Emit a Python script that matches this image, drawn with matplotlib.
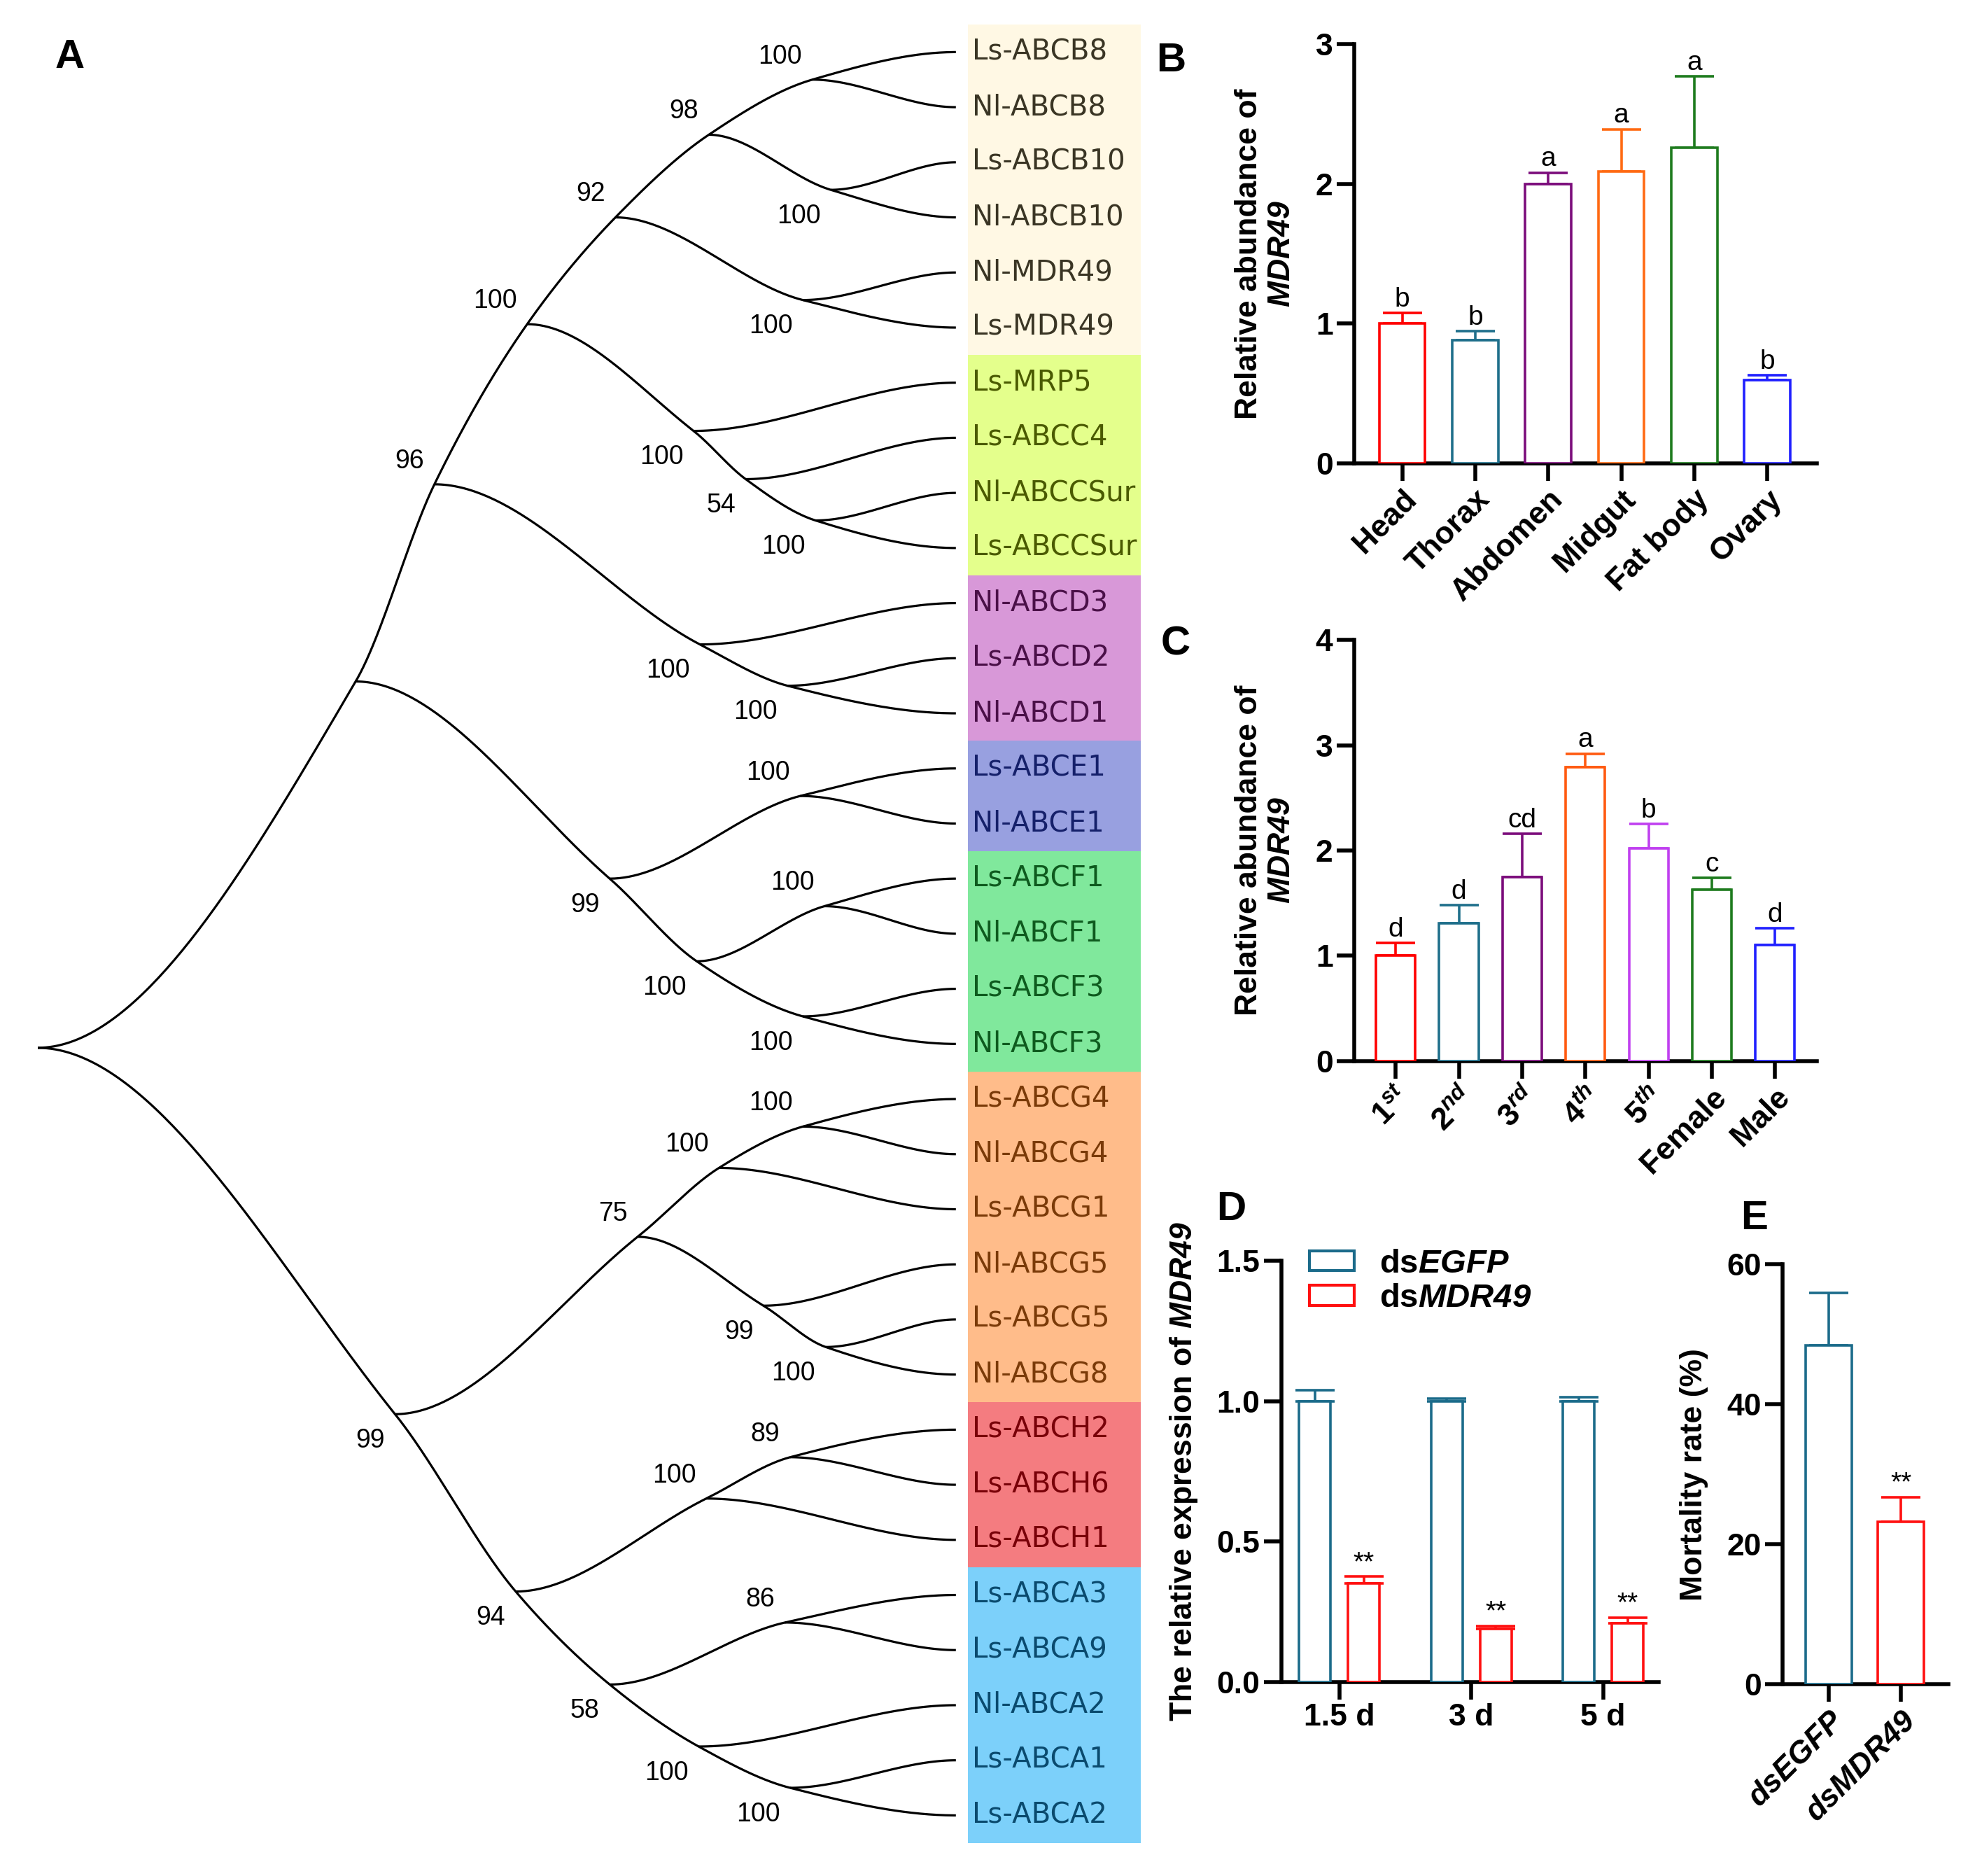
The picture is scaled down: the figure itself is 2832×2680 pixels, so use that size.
"""
Figure: ABC transporter tree (A) and MDR49 expression / RNAi bar charts (B-E)
"""

import numpy as np
import matplotlib
matplotlib.use('Agg')
import matplotlib.pyplot as plt
from matplotlib.patches import Rectangle, Patch

FONT = 'Liberation Sans'

# ---------------- data ----------------
# tree: bootstrap values as node labels, branch lengths
tree_newick = (
    "(((((((Ls-ABCB8,Nl-ABCB8)100:0.815,(Ls-ABCB10,Nl-ABCB10)100:0.96)98:0.735,"
    "(Nl-MDR49,Ls-MDR49)100:1.475)92:0.695,"
    "(Ls-MRP5,(Ls-ABCC4,(Nl-ABCCSur,Ls-ABCCSur)100:0.55)54:0.41)100:1.31)100:0.73,"
    "(Nl-ABCD3,(Ls-ABCD2,Nl-ABCD1)100:0.69)100:2.09)96:0.62,"
    "((Ls-ABCE1,Nl-ABCE1)100:1.5,((Ls-ABCF1,Nl-ABCF1)100:1.005,"
    "(Ls-ABCF3,Nl-ABCF3)100:0.835)100:0.685)99:2.0):2.505,"
    "((((Ls-ABCG4,Nl-ABCG4)100:0.66,Ls-ABCG1)100:0.64,"
    "(Nl-ABCG5,(Ls-ABCG5,Nl-ABCG8)100:0.49)99:0.99)75:1.91,"
    "(((Ls-ABCH2,Ls-ABCH6)89:0.66,Ls-ABCH1)100:1.5,"
    "((Ls-ABCA3,Ls-ABCA9)86:1.38,(Nl-ABCA2,(Ls-ABCA1,Ls-ABCA2)100:0.72)100:0.7)58:0.74)94:0.95)99:2.815);"
)
tip_depth = 7.23

subfamilies = ['B', 'C', 'D', 'E', 'F', 'G', 'H', 'A']
subfamily_sizes = [6, 4, 3, 2, 4, 6, 3, 5]
subfamily_fill = ['#FFF8E4', '#E4FF8C', '#D898D8', '#98A0E0',
                  '#80E89C', '#FFBC8A', '#F47C80', '#7CD0FA']
subfamily_text = ['#3A3524', '#4A5A00', '#4A1048', '#15206A',
                  '#0E5A1E', '#7A3A08', '#780008', '#0A4A6E']

tissues = ['Head', 'Thorax', 'Abdomen', 'Midgut', 'Fat body', 'Ovary']
tissue_mean = [1.0, 0.88, 2.0, 2.09, 2.26, 0.595]
tissue_err = [0.075, 0.065, 0.08, 0.30, 0.51, 0.035]
tissue_letters = ['b', 'b', 'a', 'a', 'a', 'b']
tissue_colors = ['#FF0000', '#1F6F8B', '#7B0C7B', '#FF6A13', '#1E7B1E', '#2020FF']

stages = [r'$\mathrm{1}^{st}$', r'$\mathrm{2}^{nd}$', r'$\mathrm{3}^{rd}$',
          r'$\mathrm{4}^{th}$', r'$\mathrm{5}^{th}$', 'Female', 'Male']
stage_mean = [1.0, 1.31, 1.75, 2.79, 2.02, 1.63, 1.10]
stage_err = [0.12, 0.17, 0.41, 0.13, 0.23, 0.11, 0.16]
stage_letters = ['d', 'd', 'cd', 'a', 'b', 'c', 'd']
stage_colors = ['#FF0000', '#1F6F8B', '#7B0C7B', '#FF5A10', '#C040F0', '#1E7B1E', '#2020FF']

days = ['1.5 d', '3 d', '5 d']
egfp_expr = [1.0, 1.0, 1.0]
egfp_err = [0.04, 0.008, 0.015]
mdr_expr = [0.35, 0.19, 0.21]
mdr_err = [0.025, 0.01, 0.02]

treatments = ['dsEGFP', 'dsMDR49']
mortality = [48.4, 23.2]
mortality_err = [7.5, 3.5]

C_EGFP = '#1B6B8A'
C_MDR = '#FF1010'

# ---------------- style ----------------
plt.rcParams['font.family'] = [FONT, 'DejaVu Sans']
plt.rcParams['font.weight'] = 'bold'
plt.rcParams['axes.labelweight'] = 'bold'
plt.rcParams['mathtext.fontset'] = 'custom'
plt.rcParams['mathtext.rm'] = FONT + ':bold'
plt.rcParams['mathtext.bf'] = FONT + ':bold'
plt.rcParams['mathtext.it'] = FONT + ':italic:bold'
# sf slot used for fully italic gene names (digits included)
plt.rcParams['mathtext.sf'] = FONT + ':italic:bold'

FS_TICK = 32
FS_LABEL = 32
FS_PANEL = 42
FS_LETTER = 28
LW_AX = 4
LW_BAR = 2.6


def parse_newick(s):
    pos = 0

    def node():
        nonlocal pos
        n = {'children': [], 'name': '', 'length': 0.0}
        if s[pos] == '(':
            pos += 1
            n['children'].append(node())
            while s[pos] == ',':
                pos += 1
                n['children'].append(node())
            pos += 1
        start = pos
        while s[pos] not in ':,();':
            pos += 1
        n['name'] = s[start:pos]
        if s[pos] == ':':
            pos += 1
            start = pos
            while s[pos] not in ',();':
                pos += 1
            n['length'] = float(s[start:pos])
        return n

    return node()


def pchip_curve(xs, ys, n=80):
    """Monotone cubic through the points, flat at both ends"""
    xs = np.asarray(xs, float)
    ys = np.asarray(ys, float)
    h = np.diff(xs)
    d = np.diff(ys) / h
    m = np.zeros(len(xs))
    for k in range(1, len(xs) - 1):
        if d[k - 1] * d[k] > 0:
            w1 = 2 * h[k] + h[k - 1]
            w2 = h[k] + 2 * h[k - 1]
            m[k] = (w1 + w2) / (w1 / d[k - 1] + w2 / d[k])
    px, py = [], []
    t = np.linspace(0, 1, n)
    h00 = 2 * t**3 - 3 * t**2 + 1
    h10 = t**3 - 2 * t**2 + t
    h01 = -2 * t**3 + 3 * t**2
    h11 = t**3 - t**2
    for k in range(len(h)):
        px.append(xs[k] + t * h[k])
        py.append(h00 * ys[k] + h10 * h[k] * m[k] + h01 * ys[k + 1] + h11 * h[k] * m[k + 1])
    return np.concatenate(px), np.concatenate(py)


fig = plt.figure(figsize=(28.32, 26.8), dpi=100)

# ---------------- A: tree ----------------
ax_t = fig.add_axes([0.0189, 0.0, 0.564, 1.0])
ax_t.set_xlim(0, 8.8)
ax_t.set_ylim(33.10, -0.945)
ax_t.axis('off')

root = parse_newick(tree_newick)
leaves = []


def set_pos(n, depth):
    if not n['children']:
        n['x'] = tip_depth
        n['y'] = len(leaves)
        leaves.append(n)
    else:
        n['x'] = depth
        for c in n['children']:
            set_pos(c, depth + c['length'])
        n['y'] = np.mean([c['y'] for c in n['children']])


set_pos(root, 0.0)

chains = []
internal = []


def walk(n, parent, path):
    if not n['children']:
        chains.append(path)
        return
    internal.append((n, parent))
    cont = None
    if parent is not None:
        if n['y'] < parent['y']:
            cont = n['children'][0]
        elif n['y'] > parent['y']:
            cont = n['children'][-1]
    for c in n['children']:
        if c is cont:
            walk(c, n, path + [(c['x'], c['y'])])
        else:
            walk(c, n, [(n['x'], n['y']), (c['x'], c['y'])])


walk(root, None, None)

for ch in chains:
    cx, cy = pchip_curve([p[0] for p in ch], [p[1] for p in ch])
    ax_t.plot(cx, cy, color='black', lw=2.3, solid_capstyle='butt')

for n, parent in internal:
    if parent is None or not n['name']:
        continue
    dy = -0.42 if n['y'] < parent['y'] else 0.48
    ax_t.text(n['x'] - 0.08, n['y'] + dy, n['name'], ha='right', va='center',
              fontsize=27, fontweight='normal', family=FONT)

box_left, box_right = 7.325, 8.685
start = 0
for size, fill, tcol in zip(subfamily_sizes, subfamily_fill, subfamily_text):
    ax_t.add_patch(Rectangle((box_left, start - 0.5), box_right - box_left, size,
                             facecolor=fill, edgecolor='none', zorder=0))
    for leaf in leaves[start:start + size]:
        ax_t.text(7.36, leaf['y'], leaf['name'], ha='left', va='center',
                  fontsize=29, fontweight='normal', family='DejaVu Sans', color=tcol)
    start += size

fig.text(0.0353, 0.9695, 'A', fontsize=FS_PANEL, fontweight='bold', ha='center', va='center')


def style_axes(ax):
    for s in ['top', 'right']:
        ax.spines[s].set_visible(False)
    for s in ['left', 'bottom']:
        ax.spines[s].set_linewidth(LW_AX)
    ax.tick_params(direction='out', width=LW_AX, length=18, labelsize=FS_TICK, pad=4)


def upper_err(ax, x, y, e, color):
    ax.errorbar(x, y, yerr=[[0], [e]], fmt='none', ecolor=color, elinewidth=LW_BAR,
                capsize=20, capthick=LW_BAR, zorder=2, clip_on=False)


def mark(ax, x, y, s, fs=FS_LETTER):
    ax.annotate(s, (x, y), xytext=(0, 1), textcoords='offset points', ha='center',
                va='bottom', fontsize=fs, fontweight='normal', family=FONT)


GENE = r'$\mathsf{MDR49}$'

# ---------------- B: tissues ----------------
ax_b = fig.add_axes([0.6833, 0.7530, 0.2334, 0.2235])
xb = np.arange(len(tissues))
ax_b.bar(xb, tissue_mean, width=0.63, color='white', edgecolor=tissue_colors,
         linewidth=LW_BAR, zorder=3)
for xi, m, e, c, l in zip(xb, tissue_mean, tissue_err, tissue_colors, tissue_letters):
    upper_err(ax_b, xi, m, e, c)
    mark(ax_b, xi, m + e, l)
ax_b.set_xlim(-0.656, 5.68)
ax_b.set_ylim(0, 3)
ax_b.set_yticks([0, 1, 2, 3])
ax_b.set_xticks(xb)
ax_b.set_xticklabels(tissues, rotation=45, ha='right', rotation_mode='anchor')
style_axes(ax_b)
ax_b.set_ylabel('Relative abundance of\n' + GENE, fontsize=FS_LABEL)
ax_b.yaxis.set_label_coords(-0.125, 0.5)
fig.text(0.5907, 0.9675, 'B', fontsize=FS_PANEL, fontweight='bold', ha='center', va='center')

# ---------------- C: stages ----------------
ax_c = fig.add_axes([0.6833, 0.4344, 0.2334, 0.2245])
xc = np.arange(len(stages))
ax_c.bar(xc, stage_mean, width=0.62, color='white', edgecolor=stage_colors,
         linewidth=LW_BAR, zorder=3)
for xi, m, e, c, l in zip(xc, stage_mean, stage_err, stage_colors, stage_letters):
    upper_err(ax_c, xi, m, e, c)
    mark(ax_c, xi, m + e, l)
ax_c.set_xlim(-0.653, 6.66)
ax_c.set_ylim(0, 4)
ax_c.set_yticks([0, 1, 2, 3, 4])
ax_c.set_xticks(xc)
ax_c.set_xticklabels(stages, rotation=45, ha='right', rotation_mode='anchor')
style_axes(ax_c)
ax_c.set_ylabel('Relative abundance of\n' + GENE, fontsize=FS_LABEL)
ax_c.yaxis.set_label_coords(-0.125, 0.5)
fig.text(0.5932, 0.6567, 'C', fontsize=FS_PANEL, fontweight='bold', ha='center', va='center')

# ---------------- D: RNAi efficiency ----------------
ax_d = fig.add_axes([0.6465, 0.1034, 0.1903, 0.2246])
xd = np.arange(len(days))
off, bw = 0.186, 0.24
ax_d.bar(xd - off, egfp_expr, width=bw, color='white', edgecolor=C_EGFP,
         linewidth=LW_BAR, zorder=3)
ax_d.bar(xd + off, mdr_expr, width=bw, color='white', edgecolor=C_MDR,
         linewidth=LW_BAR, zorder=3)
for xi, m, e in zip(xd - off, egfp_expr, egfp_err):
    upper_err(ax_d, xi, m, e, C_EGFP)
for xi, m, e in zip(xd + off, mdr_expr, mdr_err):
    upper_err(ax_d, xi, m, e, C_MDR)
    mark(ax_d, xi, m + e, '**', fs=28)
ax_d.set_xlim(-0.44, 2.42)
ax_d.set_ylim(0, 1.5)
ax_d.set_yticks([0, 0.5, 1.0, 1.5])
ax_d.set_yticklabels(['0.0', '0.5', '1.0', '1.5'])
ax_d.set_xticks(xd)
ax_d.set_xticklabels(days)
style_axes(ax_d)
ax_d.set_ylabel('The relative expression of ' + GENE, fontsize=FS_LABEL)
ax_d.yaxis.set_label_coords(-0.217, 0.5)
handles = [Patch(facecolor='white', edgecolor=C_EGFP, linewidth=3),
           Patch(facecolor='white', edgecolor=C_MDR, linewidth=3)]
ax_d.legend(handles, [r'ds$\mathsf{EGFP}$', r'ds$\mathsf{MDR49}$'], loc='upper left',
            bbox_to_anchor=(0.04, 1.06), frameon=False, fontsize=34,
            handlelength=1.35, handleheight=0.55, handletextpad=0.75,
            labelspacing=0.12, borderaxespad=0)
fig.text(0.6211, 0.3552, 'D', fontsize=FS_PANEL, fontweight='bold', ha='center', va='center')

# ---------------- E: mortality ----------------
ax_e = fig.add_axes([0.8994, 0.1022, 0.0837, 0.2239])
xe = np.arange(len(treatments))
ax_e.bar(xe, mortality, width=0.64, color='white', edgecolor=[C_EGFP, C_MDR],
         linewidth=LW_BAR, zorder=3)
for xi, m, e, c in zip(xe, mortality, mortality_err, [C_EGFP, C_MDR]):
    upper_err(ax_e, xi, m, e, c)
mark(ax_e, xe[1], mortality[1] + mortality_err[1], '**', fs=28)
ax_e.set_xlim(-0.64, 1.66)
ax_e.set_ylim(0, 60)
ax_e.set_yticks([0, 20, 40, 60])
ax_e.set_xticks(xe)
ax_e.set_xticklabels(treatments, rotation=45, ha='right', rotation_mode='anchor',
                     fontstyle='italic')
style_axes(ax_e)
ax_e.set_ylabel('Mortality rate (%)', fontsize=FS_LABEL)
ax_e.yaxis.set_label_coords(-0.447, 0.5)
fig.text(0.885, 0.3504, 'E', fontsize=FS_PANEL, fontweight='bold', ha='center', va='center')

fig.savefig('out.png', dpi=100, facecolor='white')
